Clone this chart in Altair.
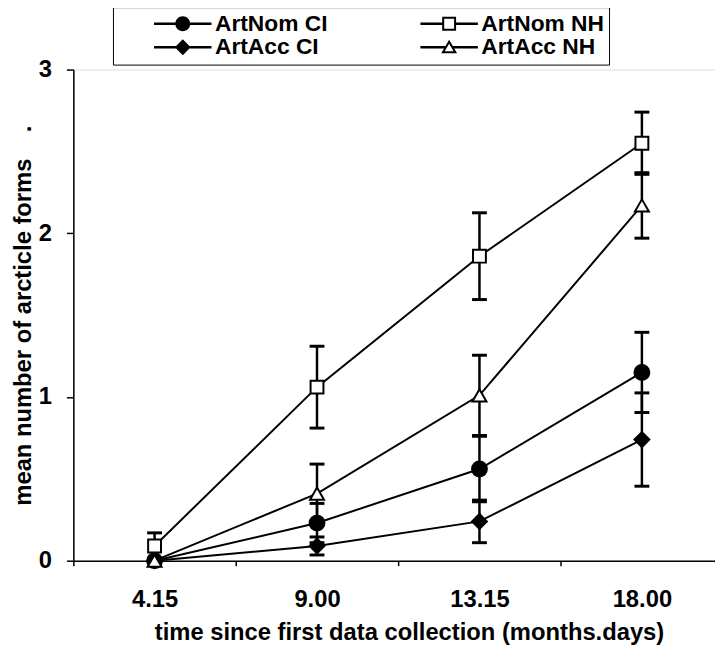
import json
import altair as alt
import pandas as pd

# ---- data ----
times = ["4.15", "9.00", "13.15", "18.00"]
series = ["ArtNom CI", "ArtNom NH", "ArtAcc CI", "ArtAcc NH"]

art_nom_ci = [0.00, 0.23, 0.56, 1.15]
art_nom_ci_err = [0.00, 0.12, 0.20, 0.245]
art_nom_nh = [0.09, 1.06, 1.86, 2.55]
art_nom_nh_err = [0.08, 0.25, 0.265, 0.19]
art_acc_ci = [0.00, 0.09, 0.24, 0.74]
art_acc_ci_err = [0.00, 0.055, 0.13, 0.285]
art_acc_nh = [0.00, 0.41, 1.01, 2.17]
art_acc_nh_err = [0.00, 0.18, 0.245, 0.20]

means = [art_nom_ci, art_nom_nh, art_acc_ci, art_acc_nh]
errs = [art_nom_ci_err, art_nom_nh_err, art_acc_ci_err, art_acc_nh_err]

rows = []
for name, vals, es in zip(series, means, errs):
    for i, (t, v, e) in enumerate(zip(times, vals, es)):
        rows.append({"series": name, "time": t, "pos": i + 0.5,
                     "mean": v, "lo": max(v - e, 0.0), "hi": v + e})
df = pd.DataFrame(rows)

FONT = "Liberation Sans"
FS = 24
LFS = 23
NB = "\u00a0"
Y_TITLE = "mean number of arcticle forms" + NB * 4 + "."
X_TITLE = "time since first data collection (months.days)"

# marker style per series (plot)
point_shapes = ["circle", "square", "diamond", "triangle-up"]
point_fills = ["black", "white", "black", "white"]
point_sizes = [225, 169, 225, 200]

# legend order (column-major grid) and legend symbols (line + marker, drawn as filled outlines)
legend_order = ["ArtNom CI", "ArtAcc CI", "ArtNom NH", "ArtAcc NH"]
BARS = "M-2.9,-0.13H-0.6V0.13H-2.9ZM0.6,-0.13H2.9V0.13H0.6Z"
BARS_T = "M-2.9,-0.13H-0.3V0.13H-2.9ZM0.3,-0.13H2.9V0.13H0.3Z"
legend_paths = {
    "ArtNom CI": BARS + "M-0.75,0A0.75,0.75 0 1,1 0.75,0A0.75,0.75 0 1,1 -0.75,0Z",
    "ArtNom NH": BARS + "M-0.7,-0.7H0.7V0.7H-0.7ZM-0.5,-0.5V0.5H0.5V-0.5Z",
    "ArtAcc CI": BARS + "M-0.8,0L0,-0.8L0.8,0L0,0.8Z",
    "ArtAcc NH": BARS_T + "M0,-0.75L0.8,0.6L-0.8,0.6ZM0,-0.36L-0.45,0.4L0.45,0.4Z",
}

x_enc = alt.X(
    "pos:Q",
    scale=alt.Scale(domain=[0, 3.95], nice=False, zero=False),
    axis=alt.Axis(
        values=[0, 1, 2, 3],
        labelExpr=json.dumps(times) + "[datum.value]",
        labelOffset=82, labelFlush=False, labelOverlap=False,
        labelFont=FONT, labelFontSize=FS, labelFontWeight="bold", labelColor="black",
        labelPadding=22, labelBaseline="top",
        tickSize=5, tickColor="black", tickWidth=1.5,
        domainColor="black", domainWidth=1.5, grid=False,
        titleFont=FONT, titleFontSize=FS, titleFontWeight="bold", titleColor="black",
        titleX=339, titleY=80, titleBaseline="alphabetic", titleAlign="center",
    ),
    title=X_TITLE,
)


def y_enc(field):
    return alt.Y(
        field + ":Q",
        scale=alt.Scale(domain=[0, 3], nice=False),
        axis=alt.Axis(
            values=[0, 1, 2, 3], format="d",
            labelFont=FONT, labelFontSize=FS, labelFontWeight="bold", labelColor="black",
            labelPadding=15, tickSize=7, tickColor="black", tickWidth=1.5,
            domainColor="black", domainWidth=1.5, grid=False,
            titleFont=FONT, titleFontSize=FS, titleFontWeight="bold", titleColor="black",
            titleX=-50, titleBaseline="middle", titleAlign="center", titleAngle=270,
        ),
        title=Y_TITLE,
    )


base = alt.Chart(df)

lines = base.mark_line(color="black", strokeWidth=2).encode(
    x=x_enc, y=y_enc("mean"), detail="series:N"
)
rules = base.mark_rule(color="black", strokeWidth=2.5).encode(
    x=x_enc, y=y_enc("lo"), y2="hi:Q"
)
cap_hi = base.mark_tick(color="black", thickness=3, size=15, orient="horizontal", opacity=1).encode(
    x=x_enc, y=y_enc("hi")
)
cap_lo = base.mark_tick(color="black", thickness=3, size=15, orient="horizontal", opacity=1).encode(
    x=x_enc, y=y_enc("lo")
)

point_layers = []
for name, shp, fl, sz in zip(series, point_shapes, point_fills, point_sizes):
    point_layers.append(
        base.transform_filter(alt.datum.series == name)
        .mark_point(shape=shp, fill=fl, filled=True, stroke="black", strokeWidth=2, size=sz, opacity=1)
        .encode(x=x_enc, y=y_enc("mean"))
    )

legend_def = alt.Legend(
    orient="none", legendX=40, legendY=-63, columns=2, title=None,
    strokeColor="black", fillColor="white", padding=5,
    symbolSize=400, symbolStrokeWidth=0, symbolFillColor="black", symbolOpacity=1,
    symbolOffset=54, labelOffset=21, columnPadding=57, rowPadding=-3,
    labelFont=FONT, labelFontSize=LFS, labelFontWeight="bold", labelColor="black", labelLimit=0,
    labelBaseline="middle",
)
legend_layer = base.mark_point(filled=True, color="black", opacity=0).encode(
    x=x_enc, y=y_enc("mean"),
    shape=alt.Shape("series:N", sort=legend_order,
                    scale=alt.Scale(domain=legend_order, range=[legend_paths[s] for s in legend_order]),
                    legend=legend_def),
)

chart = (
    alt.layer(legend_layer, lines, rules, cap_hi, cap_lo, *point_layers)
    .properties(
        width=648, height=496,
        padding={"left": 66, "top": 59, "right": 0, "bottom": 85},
        autosize=alt.AutoSizeParams(type="none"),
    )
    .configure_view(stroke=None)
    .configure(background="white")
)

chart.save("out.html", embed_options={"renderer": "svg", "actions": False})
